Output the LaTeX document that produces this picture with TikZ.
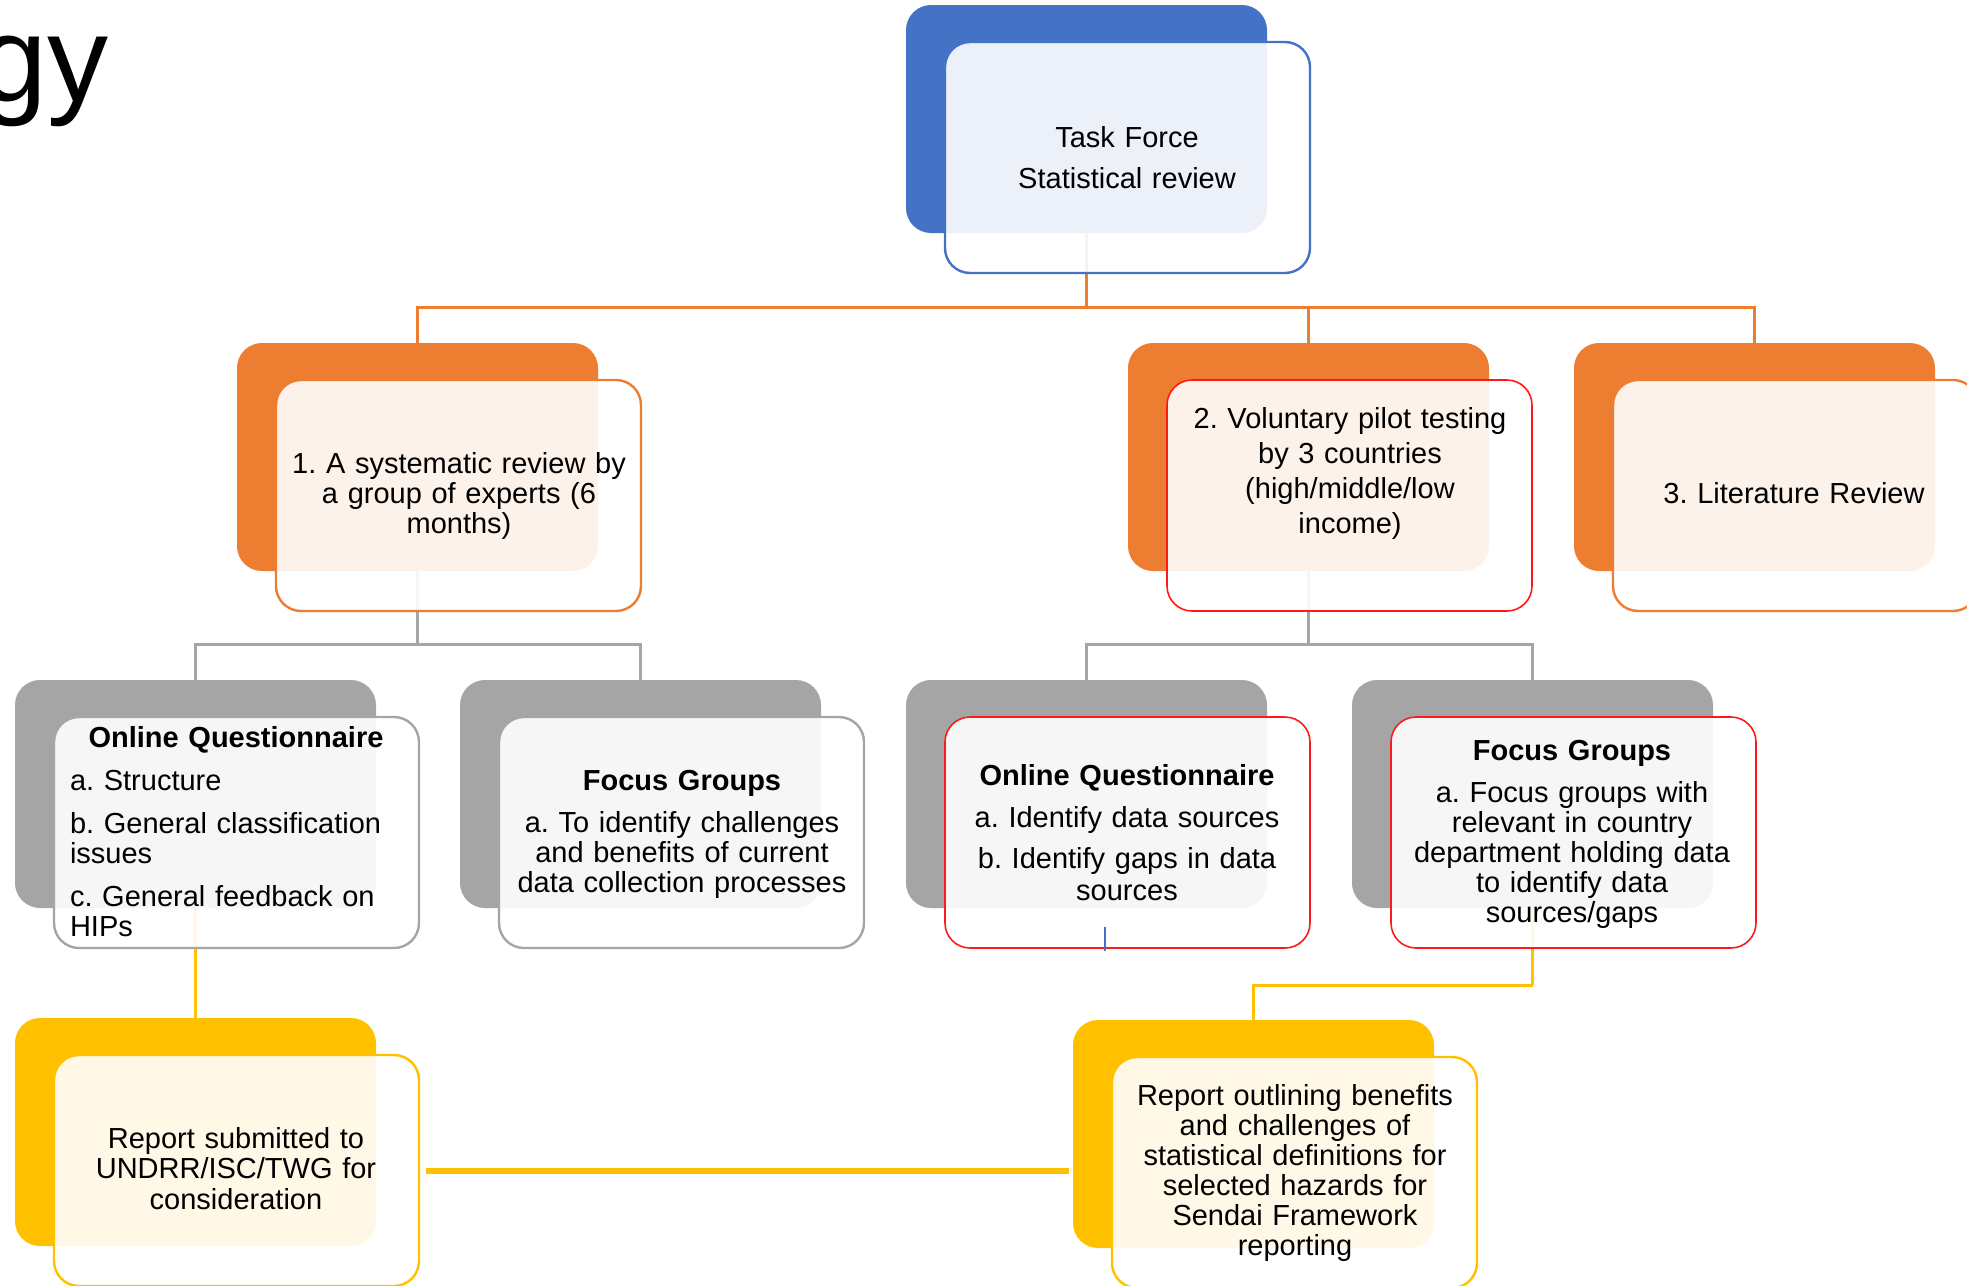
\documentclass[tikz,border=0pt]{standalone}
\usepackage{fontspec}
\setmainfont{Liberation Sans}
\definecolor{cblue}{HTML}{4472C4}
\definecolor{corange}{HTML}{ED7D31}
\definecolor{cgray}{HTML}{A5A5A5}
\definecolor{cyellow}{HTML}{FFC000}
\definecolor{cred}{HTML}{FF1A1A}
\pgfdeclarelayer{background}
\pgfsetlayers{background,main}
\tikzset{
 backbox/.style={rectangle, rounded corners=12.5pt, minimum width=180.5pt, minimum height=114pt, inner sep=0pt, draw=none},
 frontbox/.style={rectangle, rounded corners=12.5pt, minimum width=182.5pt, minimum height=115.5pt, inner sep=0pt, fill=white, fill opacity=0.9, line width=1.2pt},
 txt/.style={inner sep=0pt, anchor=base, text width=182pt, align=center, font=\fontsize{14.5}{15}\selectfont},
 conn/.style={line width=1.5pt},
}
\newcommand\twobox[6]{%
 \node[backbox, fill=#4] (#1b) at ({#2+180.5},{#3+114}) {};
 \node[frontbox, draw=#5, line width=#6] (#1f) at ({#2+39+182.5},{#3+37+115.5}) {};
}
\begin{document}
\frenchspacing
\begin{tikzpicture}[x=0.5pt,y=-0.5pt]
\useasboundingbox (0,0) rectangle (1967,1286);
\clip (0,0) rectangle (1967,1286);
% title fragment
\node[inner sep=0pt, anchor=base east, font=\fontsize{61}{61}\selectfont] (title) at (109,101) {gy};
% boxes
\twobox{top}{906}{5}{cblue}{cblue}{1.2pt}
\twobox{oa}{237}{343}{corange}{corange}{1.2pt}
\twobox{ob}{1128}{343}{corange}{cred}{0.8pt}
\twobox{oc}{1574}{343}{corange}{corange}{1.2pt}
\twobox{ga}{15}{680}{cgray}{cgray}{1.2pt}
\twobox{gb}{460}{680}{cgray}{cgray}{1.2pt}
\twobox{gc}{906}{680}{cgray}{cred}{0.8pt}
\twobox{gd}{1352}{680}{cgray}{cred}{0.8pt}
\twobox{ya}{15}{1018}{cyellow}{cyellow}{1.2pt}
\twobox{yb}{1073}{1020}{cyellow}{cyellow}{1.2pt}
% texts
\node[txt] (ttop) at (1127,147) {Task Force\\[5.5pt]Statistical review};
\node[txt] (toa) at (459,473) {1. A systematic review by\\a group of experts (6\\months)};
\node[txt, font=\fontsize{14.5}{17.5}\selectfont] (tob) at (1350,428) {2. Voluntary pilot testing\\by 3 countries\\(high/middle/low\\income)};
\node[txt] (toc) at (1794,503) {3. Literature Review};
\node[txt, text width=166pt, align=left] (tga) at (236,747) {\makebox[166pt][c]{\bfseries Online Questionnaire}\\[6.5pt]a. Structure\\[6.5pt]b. General classification\\issues\\[6.5pt]c. General feedback on\\HIPs};
\node[txt] (tgb) at (682,790) {\textbf{Focus Groups}\\[6pt]a. To identify challenges\\and benefits of current\\data collection processes};
\node[txt] (tgc) at (1127,785) {\textbf{Online Questionnaire}\\[6pt]a. Identify data sources\\[5.5pt]b. Identify gaps in data\\[1pt]sources};
\node[txt] (tgd) at (1572,760) {\textbf{Focus Groups}\\[6pt]a. Focus groups with\\relevant in country\\department holding data\\to identify data\\sources/gaps};
\node[txt, font=\fontsize{14.5}{15.3}\selectfont] (tya) at (236,1148) {Report submitted to\\UNDRR/ISC/TWG for\\consideration};
\node[txt] (tyb) at (1295,1105) {Report outlining benefits\\and challenges of\\statistical definitions for\\selected hazards for\\Sendai Framework\\reporting};
% small blue tick
\coordinate (tickA) at (1105,927);
\coordinate (tickB) at (1105,951);
\draw[cblue, line width=0.7pt] (tickA) -- (tickB);
% connectors
\begin{pgfonlayer}{background}
\coordinate (hubT) at (1086.5,307);
\coordinate (hubA) at (417.5,644);
\coordinate (hubB) at (1308.5,644);
\coordinate (hubY) at (1532.5,985);
\draw[conn, corange] (topb.south) -- (hubT);
\draw[conn, corange] (hubT) -| (oab.north);
\draw[conn, corange] (hubT) -| (obb.north);
\draw[conn, corange] (hubT) -| (ocb.north);
\draw[conn, cgray] (oab.south) -- (hubA);
\draw[conn, cgray] (hubA) -| (gab.north);
\draw[conn, cgray] (hubA) -| (gbb.north);
\draw[conn, cgray] (obb.south) -- (hubB);
\draw[conn, cgray] (hubB) -| (gcb.north);
\draw[conn, cgray] (hubB) -| (gdb.north);
\draw[conn, cyellow] (gab.south) -- (yab.north);
\draw[conn, cyellow] (gdb.south) -- (hubY);
\draw[conn, cyellow] (hubY) -| (ybb.north);
\draw[cyellow, line width=3pt] ([xshift=3pt]yaf.east) -- ([xshift=-2pt]yaf.east -| ybb.west);
\end{pgfonlayer}
\end{tikzpicture}
\end{document}
